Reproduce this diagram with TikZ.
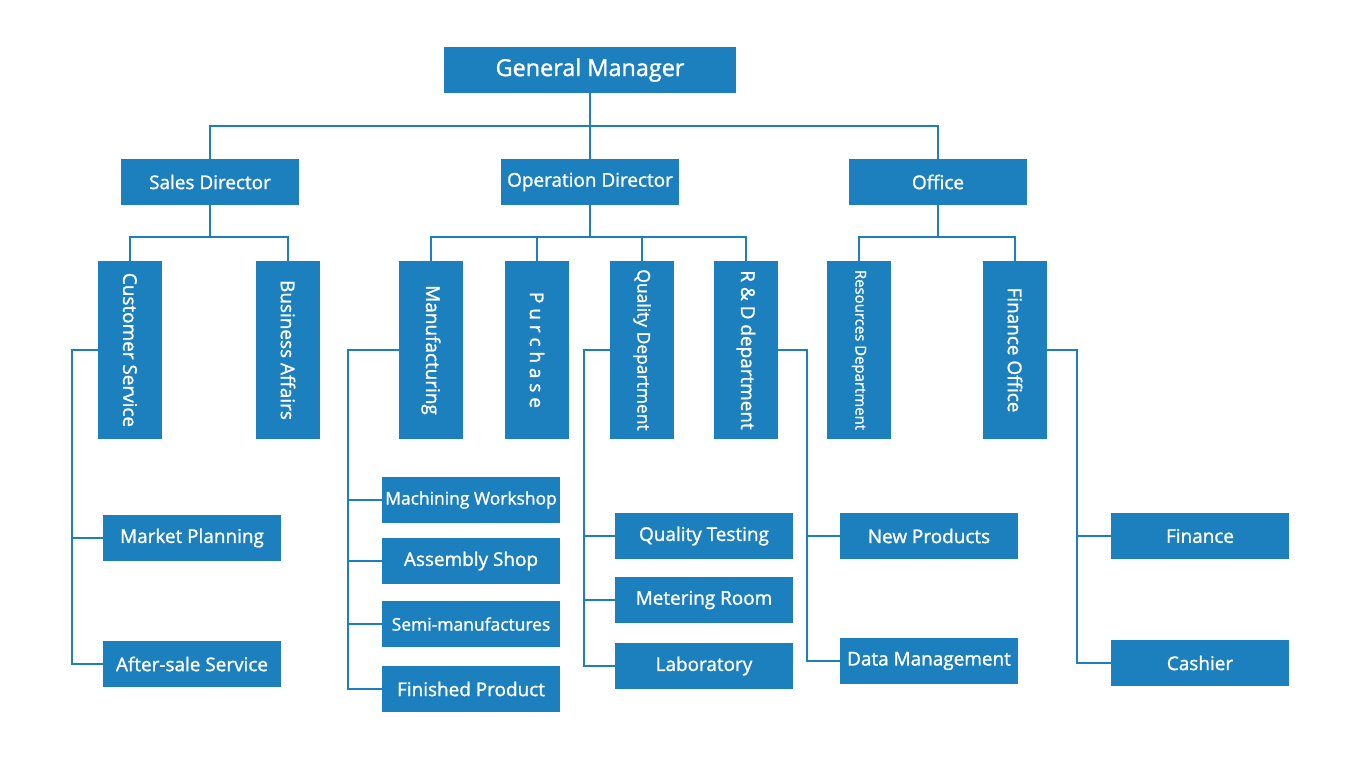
\documentclass[tikz,border=0pt]{standalone}
\usepackage{fontspec}
\setmainfont{Open Sans}[UprightFeatures={FakeBold=1.3}]
\usetikzlibrary{positioning}
\definecolor{chartblue}{RGB}{28,127,190}
\tikzset{
    unit/.style={rectangle, fill=chartblue, text=white, inner sep=0pt,
                 align=center, minimum width=178bp, minimum height=46bp,
                 font=\fontsize{19}{22}\selectfont},
    head/.style={unit, minimum width=292bp, font=\fontsize{23.5}{27}\selectfont},
    dept/.style={unit, minimum width=64bp, minimum height=178bp},
    link/.style={draw=chartblue, line width=2bp}
}
\newcommand{\vtext}[1]{\rotatebox{-90}{#1}}

\begin{document}
\begin{tikzpicture}[x=1bp, y=-1bp]
    \useasboundingbox (0,0) rectangle (1360,760);

    % top levels
    \node[head] (gm) at (590,70) {General Manager};
    \node[unit] (sales) at (210,182) {Sales Director};
    \node[unit] (op) at (590,182) {Operation Director};
    \node[unit] (office) at (938,182) {Office};

    % departments
    \node[dept] (cs) at (130,350) {\vtext{Customer Service}};
    \node[dept] (ba) at (288,350) {\vtext{Business Affairs}};
    \node[dept] (manu) at (431,350) {\vtext{Manufacturing}};
    \node[dept] (pur) at (537,350) {\vtext{P u r c h a s e}};
    \node[dept, font=\fontsize{17.5}{20}\selectfont] (qual) at (642,350) {\vtext{Quality Department}};
    \node[dept] (rd) at (746,350) {\vtext{R \& D department}};
    \node[dept, font=\fontsize{15}{18}\selectfont] (res) at (859,350) {\vtext{Resources Department}};
    \node[dept] (fo) at (1015,350) {\vtext{Finance Office}};

    % sections
    \node[unit] (market) at (192,538) {Market Planning};
    \node[unit] (after) at (192,664) {After-sale Service};
    \node[unit, font=\fontsize{17.5}{21}\selectfont] (mach) at (471,500) {Machining Workshop};
    \node[unit] (asm) at (471,561) {Assembly Shop};
    \node[unit, font=\fontsize{17.5}{20}\selectfont] (semi) at (471,624) {Semi-manufactures};
    \node[unit] (fprod) at (471,689) {Finished Product};
    \node[unit] (qtest) at (704,536) {Quality Testing};
    \node[unit] (meter) at (704,600) {Metering Room};
    \node[unit] (lab) at (704,666) {Laboratory};
    \node[unit] (newp) at (929,536) {New Products};
    \node[unit] (datam) at (929,661) {Data Management};
    \node[unit] (fin) at (1200,536) {Finance};
    \node[unit] (cash) at (1200,663) {Cashier};

    % tree lines
    \draw[link] (gm.south) -- (op.north);
    \draw[link] (gm.south) -- ++(0,33) -| (sales.north);
    \draw[link] (gm.south) -- ++(0,33) -| (office.north);
    \foreach \d in {cs, ba}
        \draw[link] (sales.south) -- ++(0,32) -| (\d.north);
    \foreach \d in {manu, pur, qual, rd}
        \draw[link] (op.south) -- ++(0,32) -| (\d.north);
    \foreach \d in {res, fo}
        \draw[link] (office.south) -- ++(0,32) -| (\d.north);

    \foreach \s in {market, after}
        \draw[link] (cs.west) -- ++(-26,0) |- (\s.west);
    \foreach \s in {mach, asm, semi, fprod}
        \draw[link] (manu.west) -- ++(-51,0) |- (\s.west);
    \foreach \s in {qtest, meter, lab}
        \draw[link] (qual.west) -- ++(-26,0) |- (\s.west);
    \foreach \s in {newp, datam}
        \draw[link] (rd.east) -- ++(29,0) |- (\s.west);
    \foreach \s in {fin, cash}
        \draw[link] (fo.east) -- ++(30,0) |- (\s.west);
\end{tikzpicture}
\end{document}
